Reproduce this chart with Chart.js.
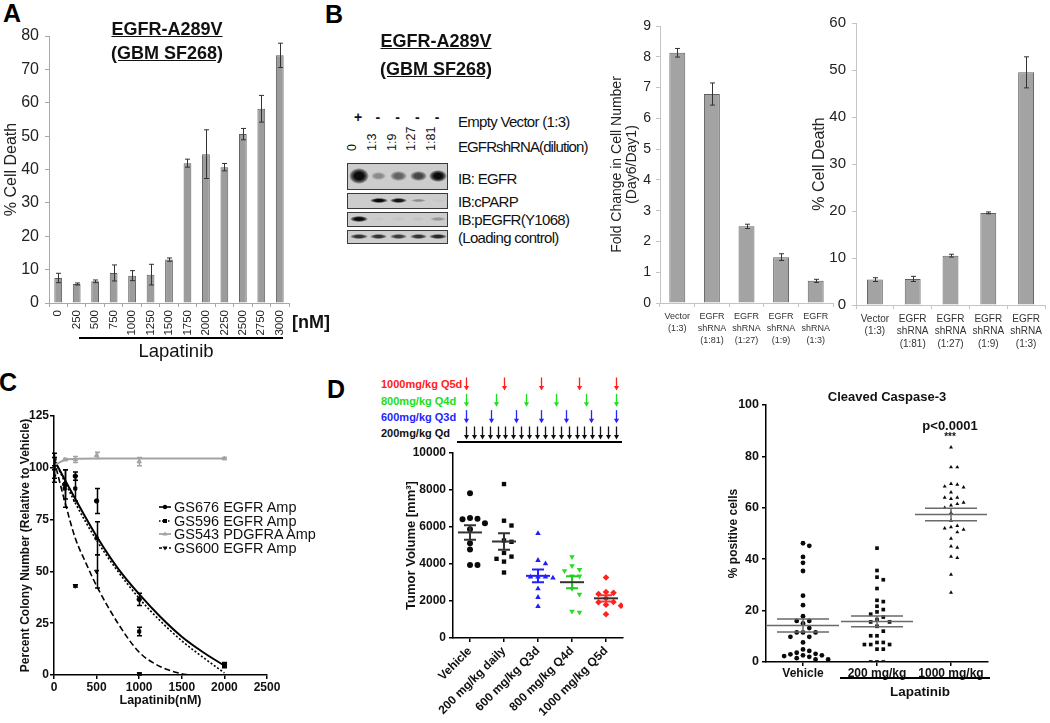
<!DOCTYPE html>
<html><head><meta charset="utf-8">
<script src="https://cdn.jsdelivr.net/npm/chart.js@4"></script>
<style>
html,body{margin:0;padding:0;background:#fff;}
body{width:1050px;height:723px;overflow:hidden;position:relative;font-family:"Liberation Sans",Arial,Helvetica,sans-serif;color:#111;}
canvas{position:absolute;}
.t{position:absolute;white-space:nowrap;line-height:1;}
.box{position:absolute;box-sizing:border-box;border:1.5px solid #3a3a3a;background:#cdcdcd;overflow:hidden;}
.band{position:absolute;}
</style></head><body>
<script>
// ---------------- DATA ----------------
// Panel A
const aDoses = ['0','250','500','750','1000','1250','1500','1750','2000','2250','2500','2750','3000'];
const aDeath = [7.5,5.7,6.5,9.0,8.2,8.5,13.0,41.9,44.6,40.7,50.6,58.2,74.2];
const aDeathErr = [1.4,0.3,0.4,2.4,1.5,3.1,0.5,1.2,7.3,1.1,1.7,4.0,3.65];
// Panel B (western blot)
const blotLanes = ['0','1:3','1:9','1:27','1:81'];
const blotVector = ['+','-','-','-','-'];
const bandEGFR = [1.8,0.35,0.55,0.7,1.0];
const bandCPARP = [0,1.0,0.95,0.35,0.04];
const bandPEGFR = [1.0,0.03,0.04,0.05,0.28];
const bandLoad = [0.8,0.8,0.75,0.8,0.85];
// Panel B bar charts
const bGroups = [['Vector','(1:3)'],['EGFR','shRNA','(1:81)'],['EGFR','shRNA','(1:27)'],['EGFR','shRNA','(1:9)'],['EGFR','shRNA','(1:3)']];
const bFold = [8.13,6.79,2.49,1.49,0.72];
const bFoldErr = [0.14,0.36,0.07,0.11,0.05];
const bDeath = [5.4,5.55,10.5,19.6,49.5];
const bDeathErr = [0.4,0.55,0.3,0.2,3.3];
// Panel C
const cDoses = [0,125,250,500,1000,2000];
const c676 = [104,92,96,84,36.5,5];
const c676Err = [3,7,2,6,3,1];
const c596 = [100,90,90,66,21,4.5];
const c596Err = [5,9,6,8,2,1];
const c543 = [102,104,104,106,103,104.5];
const c543Err = [3,0.5,1.5,1.5,2,0.5];
const c600Doses = [0,250,500,1000];
const c600 = [96,43,50,0.5];
const c600Err = [3,0.5,8,0.5];
const fitX = [0,250,500,750,1000,1250,1500,1750,2000];
const fit676 = [104,85,67,51.5,39,28,18.5,11,4.5];
const fit596 = [104,83,65,50,37,26,16.5,8.5,1];
const fit600X = [0,125,250,375,500,750,1000,1250,1500,1580];
const fit600 = [104,84,66,54,43,25,11,4,0.6,0];
const fit543X = [0,60,125,250,500,1000,2000];
const fit543 = [101,102.5,103.8,104.3,104.5,104.5,104.5];
const cLegend = ['GS676 EGFR Amp','GS596 EGFR Amp','GS543 PDGFRA Amp','GS600 EGFR Amp'];
// Panel D (tumor volume)
const dGroups = ['Vehicle','200 mg/kg daily','600 mg/kg Q3d','800 mg/kg Q4d','1000 mg/kg Q5d'];
const dVehicle = [7830,6480,6450,6420,6200,5880,5120,4780,3950,3950];
const d200 = [8320,6340,6080,5270,5200,4600,4400,4280,4130,3540];
const d600 = [5650,4200,4020,3300,3300,3250,3300,2670,2200,1710];
const d800 = [4390,3900,3700,3630,3340,3340,2670,2360,1440,1390];
const d1000 = [3270,2490,2440,2380,2150,1950,1930,1800,1750,1280];
const schedLabels = ['1000mg/kg Q5d','800mg/kg Q4d','600mg/kg Q3d','200mg/kg Qd'];
const sched1000 = [0,4.75,9.5,14.25,19];
const sched800 = [0,3.8,7.6,11.4,15.2,19];
const sched600 = [0,3.17,6.33,9.5,12.67,15.83,19];
const sched200 = [0,1,2,3,4,5,6,7,8,9,10,11,12,13,14,15,16,17,18,19];
// Panel D (cleaved caspase-3)
const eGroups = ['Vehicle','200 mg/kg','1000 mg/kg'];
const eVehicle = [46.2,45.2,40.9,38.6,35.4,25.8,22.1,17.8,16,16,15,13.2,11.5,11.5,11.5,9.8,9.8,7.6,4.9,4.3,3.6,3.2,3,2.6,2.6,2.3,2,1.5,1,1];
const e200 = [44.3,35.6,33,32,28.6,24,23.5,21.7,20.4,19.5,18.6,17.5,16.5,15.6,15.6,13.9,12,10.2,10.2,7.6,7.6,6.8,6.8,6.8,5,5,0,0,0];
const e1000 = [83.5,75.8,75.8,69.3,69,68.3,68,66,64,64,63.5,62,61.5,61,60,58,55,53,52.5,52,51.5,50.5,48,45,44.5,41,40.5,34,27];

// ---------------- SETUP ----------------
Chart.defaults.font.family = '"Liberation Sans", Arial, Helvetica, sans-serif';
Chart.defaults.color = '#222';
Chart.defaults.animation = false;
Chart.defaults.responsive = false;
Chart.defaults.plugins.legend.display = false;
Chart.defaults.plugins.tooltip.enabled = false;
const plain = v => String(v);

function mk(left, top, w, h){
  const c = document.createElement('canvas');
  c.width = w; c.height = h; c.style.left = left+'px'; c.style.top = top+'px';
  c.style.width = w+'px'; c.style.height = h+'px';
  document.body.appendChild(c); return c;
}
function T(html, x, y, css, anchor, rot){
  const d = document.createElement('div'); d.className = 't'; d.innerHTML = html;
  d.style.cssText += css || '';
  d.style.left = x+'px'; d.style.top = y+'px';
  anchor = anchor || 'c';
  const tx = anchor === 'l' ? '0' : anchor === 'r' ? '-100%' : '-50%';
  d.style.transform = 'translate(' + tx + ',-50%)' + (rot ? ' rotate(' + rot + 'deg)' : '');
  if (rot) d.style.transformOrigin = anchor === 'l' ? 'left center' : 'center center';
  document.body.appendChild(d); return d;
}
function hline(x, y, w, th, col){
  const d = document.createElement('div');
  d.style.cssText = 'position:absolute;left:'+x+'px;top:'+y+'px;width:'+w+'px;height:'+th+'px;background:'+(col||'#000');
  document.body.appendChild(d);
}

const errPlugin = {
  id:'errbars',
  afterDatasetsDraw(chart){
    const ctx = chart.ctx;
    chart.data.datasets.forEach((ds, i) => {
      if (!ds.errors) return;
      const meta = chart.getDatasetMeta(i);
      const ys = chart.scales[meta.yAxisID];
      ctx.save();
      ctx.strokeStyle = ds.errColor || '#333';
      ctx.lineWidth = ds.errWidth || 1;
      meta.data.forEach((el, j) => {
        const e = ds.errors[j]; if (!e) return;
        const raw = ds.data[j]; const v = (typeof raw === 'object') ? raw.y : raw;
        const x = Math.round(el.x) + 0.5;
        const y1 = ys.getPixelForValue(v + e), y2 = ys.getPixelForValue(Math.max(v - e, ys.min));
        const c = ds.errCap || 2.5;
        ctx.beginPath();
        ctx.moveTo(x, y1); ctx.lineTo(x, y2);
        ctx.moveTo(x - c, y1); ctx.lineTo(x + c, y1);
        ctx.moveTo(x - c, y2); ctx.lineTo(x + c, y2);
        ctx.stroke();
      });
      ctx.restore();
    });
  }
};

const msPlugin = {
  id:'meansem',
  afterDatasetsDraw(chart){
    const ctx = chart.ctx, xs = chart.scales.x, ys = chart.scales.y;
    chart.data.datasets.forEach(ds => {
      if (ds.group === undefined) return;
      const v = ds.data.map(p => p.y), n = v.length;
      const m = v.reduce((a,b)=>a+b,0)/n;
      const sd = Math.sqrt(v.reduce((a,b)=>a+(b-m)*(b-m),0)/(n-1));
      const se = sd/Math.sqrt(n);
      const cx = xs.getPixelForValue(ds.group);
      const ym = ys.getPixelForValue(m), yt = ys.getPixelForValue(m+se), yb = ys.getPixelForValue(m-se);
      ctx.save(); ctx.lineWidth = ds.msWidth;
      ctx.strokeStyle = ds.semColor; ctx.beginPath();
      ctx.moveTo(cx-ds.semHalf, yt); ctx.lineTo(cx+ds.semHalf, yt);
      ctx.moveTo(cx-ds.semHalf, yb); ctx.lineTo(cx+ds.semHalf, yb);
      ctx.moveTo(cx, yt); ctx.lineTo(cx, yb); ctx.stroke();
      ctx.strokeStyle = ds.meanColor; ctx.beginPath();
      ctx.moveTo(cx-ds.meanHalf, ym); ctx.lineTo(cx+ds.meanHalf, ym); ctx.stroke();
      ctx.restore();
    });
  }
};

const arrowPlugin = {
  id:'arrows',
  afterDatasetsDraw(chart){
    const ctx = chart.ctx, xs = chart.scales.x, ys = chart.scales.y;
    chart.data.datasets.forEach(ds => {
      ctx.save(); ctx.strokeStyle = ds.arrowColor; ctx.fillStyle = ds.arrowColor; ctx.lineWidth = 1.3;
      ds.data.forEach(p => {
        const x = Math.round(xs.getPixelForValue(p.x)) + 0.5, y = ys.getPixelForValue(p.y);
        ctx.beginPath(); ctx.moveTo(x, y-6.5); ctx.lineTo(x, y+3); ctx.stroke();
        ctx.beginPath(); ctx.moveTo(x-2.6, y+2); ctx.lineTo(x+2.6, y+2); ctx.lineTo(x, y+6.5); ctx.closePath(); ctx.fill();
      });
      ctx.restore();
    });
  }
};

// deterministic beeswarm layout of values within a group
function swarm(vals, gi, dx, thr){
  const order = vals.map((v,i)=>i).sort((a,b)=>vals[b]-vals[a]);
  const placed = [], out = new Array(vals.length);
  const cands = [0]; for (let s=1; s<25; s++){ cands.push(s*dx, -s*dx); }
  for (const i of order){
    const v = vals[i]; let off = 0;
    for (const c of cands){
      if (!placed.some(p => Math.abs(p.y - v) < thr && Math.abs(p.x - c) < dx*0.99)) { off = c; break; }
    }
    placed.push({x:off, y:v});
    out[i] = {x: gi + off, y: v};
  }
  return out;
}

// ---------------- PANEL LETTERS ----------------
const L = 'font-weight:bold;font-size:25px;color:#000;';
T('A', 12, 13, L); T('B', 334, 14, L); T('C', 8, 382, L); T('D', 336, 389, L);

// ---------------- PANEL A ----------------
const axA = '#a8a8a8';
new Chart(mk(0,0,300,345), {
  type:'bar',
  data:{labels:aDoses, datasets:[{data:aDeath, errors:aDeathErr, errColor:'#333', backgroundColor:'#9c9c9c', borderColor:'#5e5e5e', borderWidth:1, barPercentage:0.42, categoryPercentage:1}]},
  options:{
    layout:{padding:{top:36,right:11,left:0,bottom:0}},
    scales:{
      x:{afterFit:s=>{s.height=42;}, grid:{display:true,drawOnChartArea:false,color:axA,tickLength:4}, border:{color:axA},
         ticks:{minRotation:90,maxRotation:90,autoSkip:false,padding:3,font:{size:11.5},color:'#222'}},
      y:{min:0,max:80,afterFit:s=>{s.width=49;}, grid:{drawOnChartArea:false,color:axA,tickLength:4}, border:{color:axA},
         ticks:{stepSize:10,padding:6,font:{size:16},color:'#222',callback:plain},
         title:{display:true,text:'% Cell Death',font:{size:16},padding:{top:2,bottom:0},color:'#222'}}
    }
  },
  plugins:[errPlugin]
});
T('EGFR-A289V', 167, 29, 'font-weight:bold;font-size:18px;text-decoration:underline;');
T('(GBM SF268)', 167, 53, 'font-weight:bold;font-size:18px;text-decoration:underline;');
T('[nM]', 311, 322, 'font-weight:bold;font-size:18px;');
hline(79, 337, 204, 1.5);
T('Lapatinib', 176, 351, 'font-size:18.5px;');

// ---------------- PANEL B: blot ----------------
T('EGFR-A289V', 436, 41, 'font-weight:bold;font-size:18px;text-decoration:underline;');
T('(GBM SF268)', 436, 69, 'font-weight:bold;font-size:18px;text-decoration:underline;');
const laneX = i => 358 + 19.75*i;
blotVector.forEach((s,i) => T(s, laneX(i), 117, 'font-size:14px;font-weight:bold;'));
blotLanes.forEach((s,i) => T(s, laneX(i)-6, 151, 'font-size:12.5px;', 'l', -90));
const blotRows = [
  {label:'IB: EGFR', bands:bandEGFR, top:163, h:27, bh:12, ty:178},
  {label:'IB:cPARP', bands:bandCPARP, top:193, h:16, bh:5, ty:201},
  {label:'IB:pEGFR(Y1068)', bands:bandPEGFR, top:212, h:15, bh:6, ty:219},
  {label:'(Loading control)', bands:bandLoad, top:230, h:14, bh:5, ty:237}
];
blotRows.forEach(r => {
  const b = document.createElement('div'); b.className = 'box';
  b.style.left = '347px'; b.style.top = r.top+'px'; b.style.width = '101px'; b.style.height = r.h+'px';
  document.body.appendChild(b);
  r.bands.forEach((I, i) => {
    if (I <= 0) return;
    const a = Math.min(1, I), w = 14 + 4*Math.min(I,1.5), h = r.bh*(0.55 + 0.45*I);
    const d = document.createElement('div'); d.className = 'band';
    const cx = laneX(i) - 347, cy = r.h/2 - 1.5;
    d.style.left = (cx - w/2)+'px'; d.style.top = (cy - h/2)+'px';
    d.style.width = w+'px'; d.style.height = h+'px';
    d.style.background = 'radial-gradient(ellipse closest-side, rgba(12,12,12,'+a+') 45%, rgba(12,12,12,'+(a*0.6)+') 75%, rgba(12,12,12,0) 100%)';
    b.appendChild(d);
  });
  T(r.label, 458, r.ty, 'font-size:15px;letter-spacing:-0.7px;', 'l');
});
T('Empty Vector (1:3)', 458, 121, 'font-size:15px;letter-spacing:-0.7px;', 'l');
T('EGFRshRNA(dilution)', 458, 146, 'font-size:15px;letter-spacing:-0.9px;', 'l');

// ---------------- PANEL B: bar charts ----------------
const axB = '#c4c4c4';
new Chart(mk(600,0,243,350), {
  type:'bar',
  data:{labels:bGroups, datasets:[{data:bFold, errors:bFoldErr, errColor:'#333', errCap:2.5, backgroundColor:'#a3a3a3', borderColor:'#606060', borderWidth:1, barPercentage:0.46, categoryPercentage:1}]},
  options:{
    layout:{padding:{top:26,right:10,left:0,bottom:0}},
    scales:{
      x:{afterFit:s=>{s.height=47;}, grid:{display:true,drawOnChartArea:false,color:axB,tickLength:4}, border:{color:axB},
         ticks:{maxRotation:0,autoSkip:false,padding:4,font:{size:9,lineHeight:1.33},color:'#333'}},
      y:{min:0,max:9,afterFit:s=>{s.width=60;}, grid:{drawOnChartArea:false,color:axB,tickLength:4}, border:{color:axB},
         ticks:{stepSize:1,padding:5,font:{size:14},color:'#222',callback:plain},
         title:{display:true,text:['Fold Change in Cell Number','(Day6/Day1)'],font:{size:14,lineHeight:1.1},padding:{top:9,bottom:0},color:'#222'}}
    }
  },
  plugins:[errPlugin]
});
new Chart(mk(800,0,250,350), {
  type:'bar',
  data:{labels:bGroups, datasets:[{data:bDeath, errors:bDeathErr, errColor:'#333', errCap:2.5, backgroundColor:'#a3a3a3', borderColor:'#606060', borderWidth:1, barPercentage:0.42, categoryPercentage:1}]},
  options:{
    layout:{padding:{top:23,right:5,left:0,bottom:0}},
    scales:{
      x:{afterFit:s=>{s.height=45;}, grid:{display:true,drawOnChartArea:false,color:axB,tickLength:4}, border:{color:axB},
         ticks:{maxRotation:0,autoSkip:false,padding:4,font:{size:10,lineHeight:1.23},color:'#333'}},
      y:{min:0,max:60,afterFit:s=>{s.width=56;}, grid:{drawOnChartArea:false,color:axB,tickLength:4}, border:{color:axB},
         ticks:{stepSize:10,padding:6,font:{size:15},color:'#222',callback:plain},
         title:{display:true,text:'% Cell Death',font:{size:16},padding:{top:10,bottom:0},color:'#222'}}
    }
  },
  plugins:[errPlugin]
});

// ---------------- PANEL C ----------------
const pts = (xs, ys) => xs.map((x,i)=>({x:x, y:ys[i]}));
new Chart(mk(0,395,290,320), {
  type:'scatter',
  data:{datasets:[
    {data:pts(fit543X,fit543), showLine:true, borderColor:'#a3a3a3', borderWidth:2, pointRadius:0, cubicInterpolationMode:'monotone'},
    {data:pts(fitX,fit676), showLine:true, borderColor:'#000', borderWidth:2, pointRadius:0, cubicInterpolationMode:'monotone'},
    {data:pts(fitX,fit596), showLine:true, borderColor:'#000', borderWidth:1.6, borderDash:[2,2], pointRadius:0, cubicInterpolationMode:'monotone'},
    {data:pts(fit600X,fit600), showLine:true, borderColor:'#000', borderWidth:1.6, borderDash:[6,3], pointRadius:0, cubicInterpolationMode:'monotone'},
    {data:pts(cDoses,c543), errors:c543Err, errColor:'#a3a3a3', errWidth:1.5, pointStyle:'triangle', pointRadius:2.5, backgroundColor:'#a3a3a3', borderColor:'#a3a3a3'},
    {data:pts(cDoses,c676), errors:c676Err, errColor:'#000', errWidth:1.5, pointStyle:'circle', pointRadius:2.2, backgroundColor:'#000', borderColor:'#000'},
    {data:pts(cDoses,c596), errors:c596Err, errColor:'#000', errWidth:1.5, pointStyle:'rect', pointRadius:2.2, backgroundColor:'#000', borderColor:'#000'},
    {data:pts(c600Doses,c600), errors:c600Err, errColor:'#000', errWidth:1.5, pointStyle:'triangle', rotation:180, pointRadius:2.4, backgroundColor:'#000', borderColor:'#000'}
  ]},
  options:{
    layout:{padding:{top:21,right:23,left:0,bottom:0}},
    scales:{
      x:{type:'linear',min:0,max:2500,afterFit:s=>{s.height=40;}, grid:{drawOnChartArea:false,color:'#000',tickLength:4,lineWidth:1.5}, border:{color:'#000',width:1.5},
         ticks:{stepSize:500,padding:1,font:{size:12,weight:'bold'},color:'#111',callback:plain},
         title:{display:true,text:'Lapatinib(nM)',font:{size:12.5,weight:'bold'},padding:{top:0,bottom:7},color:'#111'}},
      y:{min:0,max:125,afterFit:s=>{s.width=54;}, grid:{drawOnChartArea:false,color:'#000',tickLength:4,lineWidth:1.5}, border:{color:'#000',width:1.5},
         ticks:{stepSize:25,padding:1,font:{size:12,weight:'bold'},color:'#111',callback:plain},
         title:{display:true,text:'Percent Colony Number (Relative to Vehicle)',font:{size:12,weight:'bold'},padding:{top:18,bottom:0},color:'#111'}}
    }
  },
  plugins:[errPlugin]
});
const legSvg = [
  '<line x1="0" y1="5" x2="12" y2="5" stroke="#000" stroke-width="1.6"/><circle cx="6" cy="5" r="2.2" fill="#000"/>',
  '<line x1="0" y1="5" x2="12" y2="5" stroke="#000" stroke-width="1.6" stroke-dasharray="1.5,1.5"/><rect x="4" y="3" width="4" height="4" fill="#000"/>',
  '<line x1="0" y1="5" x2="12" y2="5" stroke="#a3a3a3" stroke-width="1.8"/><polygon points="6,2.5 8.5,6.5 3.5,6.5" fill="#a3a3a3"/>',
  '<line x1="0" y1="5" x2="12" y2="5" stroke="#000" stroke-width="1.6" stroke-dasharray="3,2"/><polygon points="6,7.5 8.5,3.5 3.5,3.5" fill="#000"/>'
];
cLegend.forEach((s,i) => {
  const y = 507 + 13.7*i;
  T('<svg width="12" height="10" style="display:block">' + legSvg[i] + '</svg>', 159, y, '', 'l');
  T(s, 174, y, 'font-size:14.5px;color:#111;', 'l');
});

// ---------------- PANEL D: schedule ----------------
const schedColors = ['#ff2020','#20dd20','#2424ff','#111'];
schedLabels.forEach((s,i) => T(s, 381, [384,401,417,433][i], 'font-weight:bold;font-size:11px;color:'+schedColors[i]+';', 'l'));
new Chart(mk(455,372,175,72), {
  type:'scatter',
  data:{datasets:[
    {data:sched1000.map(x=>({x:x,y:3})), arrowColor:schedColors[0], pointRadius:0},
    {data:sched800.map(x=>({x:x,y:2})), arrowColor:schedColors[1], pointRadius:0},
    {data:sched600.map(x=>({x:x,y:1})), arrowColor:schedColors[2], pointRadius:0},
    {data:sched200.map(x=>({x:x,y:0})), arrowColor:schedColors[3], pointRadius:0}
  ]},
  options:{
    layout:{padding:{top:12,right:14,left:11,bottom:11}},
    scales:{x:{type:'linear',min:0,max:19,display:false}, y:{type:'linear',min:0,max:3,display:false}}
  },
  plugins:[arrowPlugin]
});
hline(457, 441, 165, 2);

// ---------------- PANEL D: tumor volume ----------------
const dSets = [dVehicle,d200,d600,d800,d1000];
const dStyle = [
  {ps:'circle', r:3.0, c:'#0a0a0a', mc:'#333', sc:'#333', rot:0},
  {ps:'rect', r:3.1, c:'#0a0a0a', mc:'#333', sc:'#333', rot:0},
  {ps:'triangle', r:3.2, c:'#2020ff', mc:'#2020ff', sc:'#2020ff', rot:0},
  {ps:'triangle', r:3.2, c:'#22dd22', mc:'#333', sc:'#22cc22', rot:180},
  {ps:'rectRot', r:3.3, c:'#ff2020', mc:'#333', sc:'#ff3030', rot:0}
];
new Chart(mk(390,440,250,283), {
  type:'scatter',
  data:{datasets: dSets.map((vals,gi) => ({
    data: swarm(vals, gi, 0.22, 330), group:gi, meanHalf:12, semHalf:6, msWidth:2,
    meanColor:dStyle[gi].mc, semColor:dStyle[gi].sc,
    pointStyle:dStyle[gi].ps, rotation:dStyle[gi].rot, pointRadius:dStyle[gi].r,
    backgroundColor:dStyle[gi].c, borderColor:dStyle[gi].c, borderWidth:0
  }))},
  options:{
    layout:{padding:{top:13,right:17,left:0,bottom:0}},
    scales:{
      x:{type:'linear',min:-0.5,max:4.5,afterFit:s=>{s.height=85;},
         afterBuildTicks:s=>{s.ticks=dGroups.map((g,i)=>({value:i}));},
         grid:{drawOnChartArea:false,color:'#000',tickLength:4,lineWidth:1.5}, border:{color:'#000',width:1.5},
         ticks:{callback:v=>dGroups[v],minRotation:45,maxRotation:45,autoSkip:false,padding:2,font:{size:12,weight:'bold'},color:'#111'}},
      y:{min:0,max:10000,afterFit:s=>{s.width=63;}, grid:{drawOnChartArea:false,color:'#000',tickLength:4,lineWidth:1.5}, border:{color:'#000',width:1.5},
         ticks:{stepSize:2000,padding:3,font:{size:12,weight:'bold'},color:'#111',callback:plain},
         title:{display:true,text:'Tumor Volume [mm³]',font:{size:13,weight:'bold'},padding:{top:14,bottom:0},color:'#111'}}
    }
  },
  plugins:[msPlugin]
});

// ---------------- PANEL D: cleaved caspase-3 ----------------
const eSets = [eVehicle,e200,e1000];
const eStyle = [{ps:'circle',r:2.4},{ps:'rect',r:2.6},{ps:'triangle',r:2.3}];
new Chart(mk(700,385,320,300), {
  type:'scatter',
  data:{datasets: eSets.map((vals,gi) => ({
    data: swarm(vals, gi, 0.085, 2.1), group:gi, meanHalf:36, semHalf:26, msWidth:1.5,
    meanColor:'#6a6a6a', semColor:'#6a6a6a',
    pointStyle:eStyle[gi].ps, pointRadius:eStyle[gi].r,
    backgroundColor:'#0a0a0a', borderColor:'#0a0a0a', borderWidth:0
  }))},
  options:{
    layout:{padding:{top:20,right:32,left:0,bottom:0}},
    scales:{
      x:{type:'linear',min:-0.5,max:2.5,afterFit:s=>{s.height=23;},
         afterBuildTicks:s=>{s.ticks=eGroups.map((g,i)=>({value:i}));},
         grid:{drawOnChartArea:false,color:'#000',tickLength:4,lineWidth:1.5}, border:{color:'#000',width:1.5},
         ticks:{callback:v=>eGroups[v],maxRotation:0,autoSkip:false,padding:0,font:{size:12,weight:'bold'},color:'#111'}},
      y:{min:0,max:100,afterFit:s=>{s.width=66;}, grid:{drawOnChartArea:false,color:'#000',tickLength:4,lineWidth:1.5}, border:{color:'#000',width:1.5},
         ticks:{stepSize:20,padding:3,font:{size:12.5,weight:'bold'},color:'#111',callback:plain},
         title:{display:true,text:'% positive cells',font:{size:12,weight:'bold'},padding:{top:26,bottom:0},color:'#111'}}
    }
  },
  plugins:[msPlugin]
});
T('Cleaved Caspase-3', 887, 396, 'font-weight:bold;font-size:13px;');
T('p&lt;0.0001', 950, 425, 'font-weight:bold;font-size:13px;');
T('***', 950, 437, 'font-weight:bold;font-size:10px;');
hline(840, 677, 150, 2);
T('Lapatinib', 920, 692, 'font-weight:bold;font-size:13.5px;');
</script>
</body></html>
